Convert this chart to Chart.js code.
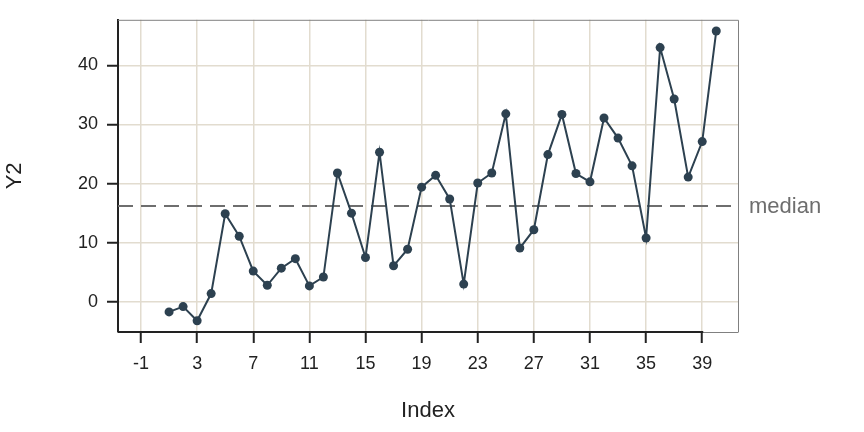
<!DOCTYPE html>
<html>
<head>
<meta charset="utf-8">
<script src="https://cdn.jsdelivr.net/npm/chart.js@4.4.0/dist/chart.umd.min.js"></script>
<style>
  body { margin: 0; background: #fff; }
  canvas { display: block; }
</style>
</head>
<body>
<canvas id="indexChart" width="864" height="432"></canvas>
<script>
var indexValues = [1, 2, 3, 4, 5, 6, 7, 8, 9, 10, 11, 12, 13, 14, 15, 16, 17, 18, 19, 20,
    21, 22, 23, 24, 25, 26, 27, 28, 29, 30, 31, 32, 33, 34, 35, 36, 37, 38, 39, 40];
var y2Values = [-1.7, -0.8, -3.2, 1.4, 14.9, 11.1, 5.2, 2.8, 5.7, 7.3, 2.7, 4.2, 21.8, 15.0, 7.5, 25.3, 6.1, 8.9, 19.4, 21.4,
    17.4, 3.0, 20.1, 21.8, 31.8, 9.1, 12.2, 24.9, 31.7, 21.7, 20.3, 31.1, 27.7, 23.0, 10.8, 43.0, 34.3, 21.1, 27.1, 45.8];
var xTicks = [-1, 3, 7, 11, 15, 19, 23, 27, 31, 35, 39];
var yTicks = [0, 10, 20, 30, 40];

var sorted = y2Values.slice().sort(function (a, b) { return a - b; });
var median = (sorted[sorted.length / 2 - 1] + sorted[sorted.length / 2]) / 2;

var points = indexValues.map(function (v, i) { return { x: v, y: y2Values[i] }; });

var fontFamily = "'Liberation Sans', Arial, sans-serif";
var lineColor = '#2d4150';
var gridColor = '#e2dccf';

var extras = {
    id: 'extras',
    beforeDatasetsDraw: function (chart) {
        var c = chart.ctx, a = chart.chartArea, y = chart.scales.y;
        var my = y.getPixelForValue(median);
        c.save();
        c.strokeStyle = '#6e6e6e';
        c.lineWidth = 2;
        c.setLineDash([15, 8]);
        c.beginPath();
        c.moveTo(a.left, my);
        c.lineTo(a.right, my);
        c.stroke();
        c.restore();
    },
    afterDraw: function (chart) {
        var c = chart.ctx, a = chart.chartArea, x = chart.scales.x, y = chart.scales.y;
        c.save();
        // frame top and right
        c.strokeStyle = '#808080';
        c.lineWidth = 1;
        c.beginPath();
        c.moveTo(a.left, a.top + 0.5);
        c.lineTo(a.right + 0.5, a.top + 0.5);
        c.lineTo(a.right + 0.5, a.bottom);
        c.stroke();
        // black bottom axis between first and last tick
        c.strokeStyle = '#222';
        c.lineWidth = 2;
        c.beginPath();
        c.moveTo(a.left, a.bottom);
        c.lineTo(x.getPixelForValue(xTicks[xTicks.length - 1]) + 1, a.bottom);
        c.stroke();
        // median label
        c.fillStyle = '#6e6e6e';
        c.font = '22px ' + fontFamily;
        c.textAlign = 'left';
        c.textBaseline = 'middle';
        c.fillText('median', a.right + 11, y.getPixelForValue(median) + 1);
        // axis titles
        c.fillStyle = '#222';
        c.textAlign = 'center';
        c.fillText('Index', (a.left + a.right) / 2, 411);
        c.translate(15, (a.top + a.bottom) / 2);
        c.rotate(-Math.PI / 2);
        c.fillText('Y2', 0, 0);
        c.restore();
    }
};

var ctx = document.getElementById('indexChart').getContext('2d');
var chart = new Chart(ctx, {
    type: 'line',
    data: {
        datasets: [{
            label: 'Y2',
            data: points,
            borderColor: lineColor,
            backgroundColor: lineColor,
            borderWidth: 2,
            pointRadius: 4.5,
            pointBorderWidth: 0,
            pointBackgroundColor: lineColor,
            tension: 0
        }]
    },
    options: {
        responsive: false,
        animation: false,
        layout: { padding: { left: 0, right: 126, top: 19, bottom: 0 } },
        plugins: {
            legend: { display: false },
            tooltip: { enabled: false }
        },
        scales: {
            x: {
                type: 'linear',
                min: -2.64,
                max: 41.55,
                afterBuildTicks: function (scale) {
                    scale.ticks = xTicks.map(function (v) { return { value: v }; });
                },
                afterFit: function (scale) { scale.height = 100; },
                grid: { color: gridColor, lineWidth: 1.5, tickColor: '#222', tickLength: 11, tickWidth: 2 },
                border: { color: '#808080', width: 1 },
                ticks: { color: '#222', padding: 10, font: { family: fontFamily, size: 18 } }
            },
            y: {
                min: -5.1,
                max: 47.7,
                afterBuildTicks: function (scale) {
                    scale.ticks = yTicks.map(function (v) { return { value: v }; });
                },
                afterFit: function (scale) { scale.width = 118; },
                grid: { color: gridColor, lineWidth: 1.5, tickColor: '#222', tickLength: 11, tickWidth: 2 },
                border: { color: '#222', width: 2 },
                ticks: { color: '#222', padding: 9, font: { family: fontFamily, size: 18 } }
            }
        }
    },
    plugins: [extras]
});
</script>
</body>
</html>
